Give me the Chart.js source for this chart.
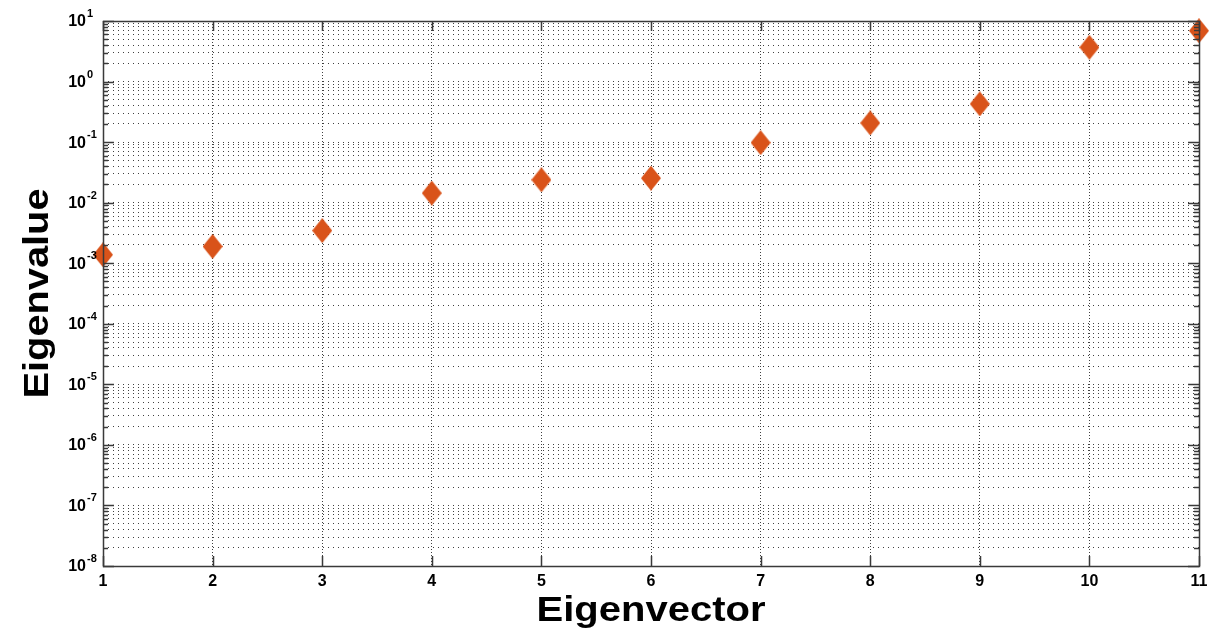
<!DOCTYPE html>
<html>
<head>
<meta charset="utf-8">
<script src="https://cdn.jsdelivr.net/npm/chart.js@4/dist/chart.umd.min.js"></script>
<style>
  html, body { margin: 0; padding: 0; background: #ffffff; }
  #wrap { width: 1216px; height: 633px; position: relative; }
</style>
</head>
<body>
<div id="wrap"><canvas id="chart"></canvas></div>
<script>
// Eigenvalue spectrum (log scale) for eigenvectors 1..11
const eigenvectorIndex = [1, 2, 3, 4, 5, 6, 7, 8, 9, 10, 11];
const eigenvalues = [1.38e-3, 1.89e-3, 3.46e-3, 1.44e-2, 2.38e-2, 2.54e-2, 0.098, 0.207, 0.427, 3.68, 6.9];
const xTickLabels = ['1', '2', '3', '4', '5', '6', '7', '8', '9', '10', '11'];
const yExponents = [-8, -7, -6, -5, -4, -3, -2, -1, 0, 1];
const xTitle = 'Eigenvector';
const yTitle = 'Eigenvalue';

const markerColor = '#D9531A';
const axisColor = '#3a3a3a';
const gridColor = 'rgba(0,0,0,0.75)';
const FONT = '"Liberation Sans", Arial, Helvetica, sans-serif';

// Diamond marker, a little taller than wide
function makeDiamond(w, h, color) {
  const c = document.createElement('canvas');
  c.width = w; c.height = h;
  const g = c.getContext('2d');
  g.fillStyle = color;
  g.beginPath();
  g.moveTo(w / 2, 0);
  g.lineTo(w, h / 2);
  g.lineTo(w / 2, h);
  g.lineTo(0, h / 2);
  g.closePath();
  g.fill();
  return c;
}
const diamond = makeDiamond(20, 25, markerColor);

// Every 1..9 x 10^k value between the axis limits, for the log grid
function logTickValues() {
  const vals = [];
  for (let i = 0; i < yExponents.length; i++) {
    const e = yExponents[i];
    if (i === yExponents.length - 1) { vals.push(Math.pow(10, e)); break; }
    for (let m = 1; m <= 9; m++) vals.push(m * Math.pow(10, e));
  }
  return vals;
}

// Text stretched along its own direction to a given width
function drawWideText(ctx, text, cx, baseY, targetWidth) {
  const w = ctx.measureText(text).width;
  const sx = targetWidth / w;
  ctx.save();
  ctx.translate(cx, baseY);
  ctx.scale(sx, 1);
  ctx.textAlign = 'center';
  ctx.textBaseline = 'alphabetic';
  ctx.fillText(text, 0, 0);
  ctx.restore();
}

// Box, inward tick marks, tick labels and axis titles
const frame = {
  id: 'frame',
  afterDatasetsDraw(chart) {
    const { ctx, chartArea: a, scales } = chart;
    const xs = scales.x, ys = scales.y;
    ctx.save();
    ctx.strokeStyle = axisColor;
    ctx.lineWidth = 1.5;
    ctx.setLineDash([]);
    // tick marks
    ctx.beginPath();
    eigenvectorIndex.forEach(v => {
      const x = Math.round(xs.getPixelForValue(v)) + 0.5;
      ctx.moveTo(x, a.bottom); ctx.lineTo(x, a.bottom - 10);
      ctx.moveTo(x, a.top); ctx.lineTo(x, a.top + 10);
    });
    logTickValues().forEach(v => {
      const y = Math.round(ys.getPixelForValue(v)) + 0.5;
      const major = Math.abs(Math.log10(v) - Math.round(Math.log10(v))) < 1e-9;
      const len = major ? 11 : 5;
      ctx.moveTo(a.left, y); ctx.lineTo(a.left + len, y);
      ctx.moveTo(a.right, y); ctx.lineTo(a.right - len, y);
    });
    ctx.stroke();
    // box
    ctx.strokeRect(Math.round(a.left) + 0.5, Math.round(a.top) + 0.5,
                   Math.round(a.right - a.left), Math.round(a.bottom - a.top));

    ctx.fillStyle = '#000';
    // x tick labels
    ctx.font = 'bold 16px ' + FONT;
    ctx.textAlign = 'center';
    ctx.textBaseline = 'top';
    eigenvectorIndex.forEach((v, i) => {
      ctx.fillText(xTickLabels[i], xs.getPixelForValue(v), a.bottom + 8);
    });
    // y tick labels: 10 with a raised exponent
    yExponents.forEach(e => {
      const y = ys.getPixelForValue(Math.pow(10, e));
      ctx.font = 'bold 16px ' + FONT;
      ctx.textAlign = 'right';
      ctx.textBaseline = 'middle';
      ctx.fillText('10', 86, y + 1);
      ctx.font = 'bold 11px ' + FONT;
      ctx.textAlign = 'left';
      ctx.fillText(String(e), 87, y - 7);
    });
    // axis titles
    ctx.font = 'bold 35px ' + FONT;
    drawWideText(ctx, xTitle, (a.left + a.right) / 2, 621, 229);
    ctx.save();
    ctx.translate(48, (a.top + a.bottom) / 2);
    ctx.rotate(-Math.PI / 2);
    drawWideText(ctx, yTitle, 0, 0, 210);
    ctx.restore();
    ctx.restore();
  }
};

new Chart(document.getElementById('chart'), {
  type: 'scatter',
  data: {
    datasets: [{
      data: eigenvectorIndex.map((x, i) => ({ x: x, y: eigenvalues[i] })),
      pointStyle: diamond,
      pointRadius: 10,
      pointHoverRadius: 10,
      clip: false
    }]
  },
  options: {
    responsive: true,
    maintainAspectRatio: false,
    animation: false,
    events: [],
    layout: { padding: { left: 103, top: 21, right: 17, bottom: 67 } },
    plugins: { legend: { display: false }, tooltip: { enabled: false } },
    scales: {
      x: {
        type: 'linear',
        min: 1, max: 11,
        ticks: { display: false, stepSize: 1 },
        grid: { color: gridColor, lineWidth: 1, drawTicks: false },
        border: { display: false, dash: [1, 2] }
      },
      y: {
        type: 'logarithmic',
        min: 1e-8, max: 10,
        afterBuildTicks: (scale) => { scale.ticks = logTickValues().map(v => ({ value: v })); },
        ticks: { display: false },
        grid: { color: gridColor, lineWidth: 1, drawTicks: false },
        border: { display: false, dash: [1, 4] }
      }
    }
  },
  plugins: [frame]
});
</script>
</body>
</html>
